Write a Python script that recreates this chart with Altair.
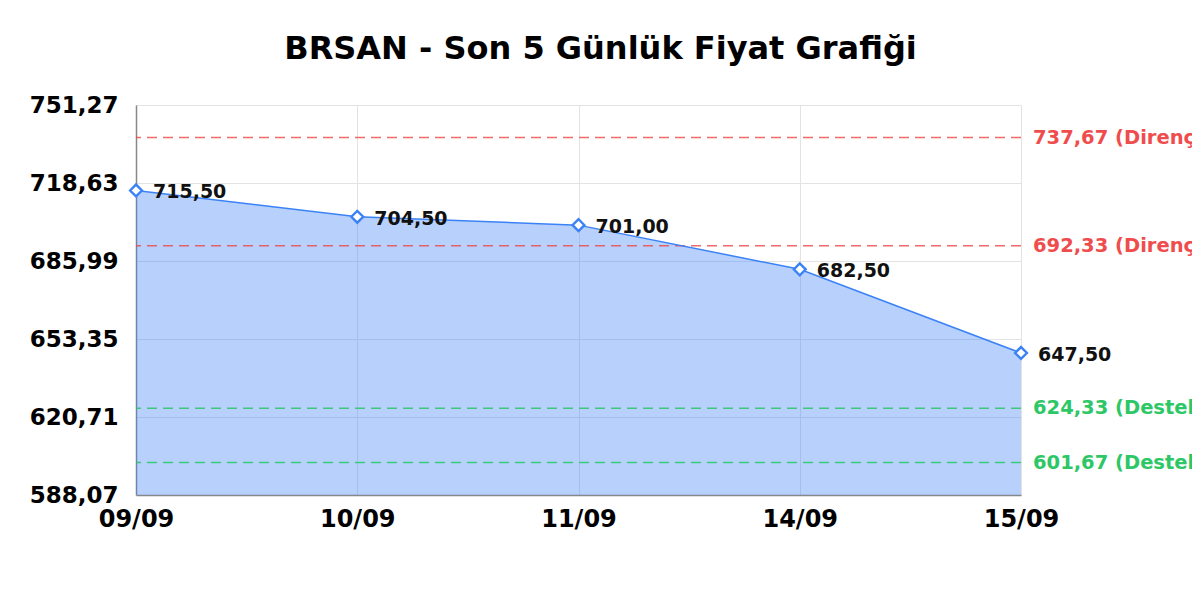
import altair as alt
import pandas as pd

dates = ["09/09", "10/09", "11/09", "14/09", "15/09"]
prices = [715.50, 704.50, 701.00, 682.50, 647.50]
res_levels = [737.67, 692.33]
sup_levels = [624.33, 601.67]
y_ticks = [588.07, 620.71, 653.35, 685.99, 718.63, 751.27]
title_text = "BRSAN - Son 5 Günlük Fiyat Grafiği"

FONT = "DejaVu Sans"
BLUE = "#3b82f6"
RED = "#ef4444"
GREEN = "#22c55e"


def tr(v):
    return f"{v:.2f}".replace(".", ",")


df = pd.DataFrame({"date": dates, "price": prices, "label": [tr(p) for p in prices]})
lv = pd.DataFrame({
    "level": res_levels + sup_levels,
    "kind": ["Direnç"] * len(res_levels) + ["Destek"] * len(sup_levels),
    "date": [dates[-1]] * (len(res_levels) + len(sup_levels)),
})
lv["label"] = [f"{tr(v)} ({k})" for v, k in zip(lv["level"], lv["kind"])]

yscale = alt.Scale(domain=[y_ticks[0], y_ticks[-1]], nice=False, zero=False)
x = alt.X(
    "date:O", sort=dates, scale=alt.Scale(type="point", padding=0),
    axis=alt.Axis(title=None, labelAngle=0, labelFont=FONT, labelFontSize=24,
                  labelFontWeight="bold", labelColor="#000", labelPadding=12,
                  tickSize=0, grid=True, gridColor="#e3e3e3", domainColor="#888",
                  domainWidth=1.5),
)
y = alt.Y(
    "price:Q", scale=yscale,
    axis=alt.Axis(title=None, values=y_ticks,
                  labelExpr="replace(format(datum.value, '.2f'), '.', ',')",
                  labelFont=FONT, labelFontSize=23, labelFontWeight="bold",
                  labelColor="#000", labelPadding=18, tickSize=0, grid=True,
                  gridColor="#e3e3e3", domainColor="#888", domainWidth=1.5),
)

base = alt.Chart(df).encode(x=x)
area = base.mark_area(color=BLUE, fillOpacity=0.37).encode(y=y, y2=alt.datum(y_ticks[0]))
line = base.mark_line(color=BLUE, strokeWidth=1.5).encode(y=y)
pts = base.mark_point(shape="diamond", filled=True, fill="white", stroke=BLUE,
                      strokeWidth=2.4, size=140, opacity=1).encode(y=y)
txt = base.mark_text(align="left", baseline="middle", dx=17, dy=2, font=FONT,
                     fontSize=19, fontWeight="bold", color="#111").encode(y=y, text="label:N")

lvbase = alt.Chart(lv)
color_scale = alt.Scale(domain=["Direnç", "Destek"], range=[RED, GREEN])
rules = lvbase.mark_rule(strokeDash=[10, 6], strokeWidth=1.5, opacity=0.8).encode(
    y=alt.Y("level:Q", scale=yscale),
    color=alt.Color("kind:N", scale=color_scale, legend=None),
)
lvtxt = lvbase.mark_text(align="left", baseline="middle", dx=12, font=FONT,
                         fontSize=19.5, fontWeight="bold", opacity=0.95).encode(
    x=alt.X("date:O", sort=dates, scale=alt.Scale(type="point", padding=0)),
    y=alt.Y("level:Q", scale=yscale),
    text="label:N",
    color=alt.Color("kind:N", scale=color_scale, legend=None),
)

chart = alt.layer(area, rules, line, pts, txt, lvtxt).properties(
    width=885, height=390,
    title=alt.TitleParams(title_text, font=FONT, fontSize=32, fontWeight="bold",
                          color="#000", anchor="middle", dx=22, offset=28),
    autosize=alt.AutoSizeParams(type="none"),
    padding={"left": 128, "top": 97, "right": 171, "bottom": 60},
    background="white",
).configure_view(strokeWidth=0)

chart.save("out.html", embed_options={"renderer": "svg", "actions": False})
